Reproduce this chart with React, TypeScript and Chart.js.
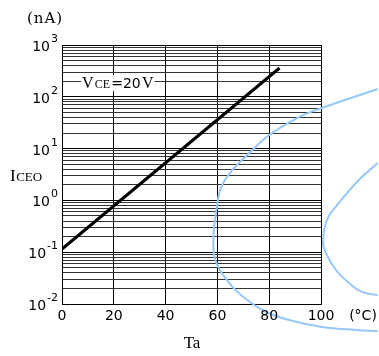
import React, { useEffect, useRef } from 'react';
import { Chart, registerables } from 'chart.js';

Chart.register(...registerables);

// Axis ticks
const xTickValues = [0, 20, 40, 60, 80, 100];
const yDecadeExponents = [-2, -1, 0, 1, 2, 3];
const yMantissas = [1, 2, 3, 4, 5, 6, 7, 8, 9];

// ICEO vs Ta (nA vs °C)
const iceoTa = [0, 84];
const iceoNa = [0.115, 360];

// Light blue arcs seen in the picture (data coordinates)
const outerArcX = [121.9, 99.2, 91.5, 80, 72.3, 65.8, 61.5, 59.6, 58.5, 59.2, 64.6, 71.5, 78.8, 87.7, 100.4, 113.5, 121.9];
const outerArcY = [141.6, 58, 40.7, 18.3, 8.2, 3.87, 1.82, 0.65, 0.196, 0.0706, 0.0254, 0.0119, 0.00701, 0.00491, 0.0036, 0.00315, 0.00301];
const innerArcX = [121.9, 114.6, 106.9, 102.3, 100.8, 101.9, 105.8, 110.8, 115.8, 121.9];
const innerArcY = [5.27, 2.48, 0.891, 0.419, 0.157, 0.0966, 0.0453, 0.0254, 0.0171, 0.0149];

const annotationText = { x: 7.7, y: 200 };

const SANS = '"DejaVu Sans", sans-serif';
const SERIF = '"Liberation Serif", serif';
const DSERIF = '"DejaVu Serif", serif';

function zip(xs: number[], ys: number[]) {
  return xs.map((x, i) => ({ x, y: ys[i] }));
}

export default function App() {
  const ref = useRef<HTMLCanvasElement>(null);

  useEffect(() => {
    const canvas = ref.current;
    if (!canvas) return;

    const yTickValues: number[] = [];
    for (const e of yDecadeExponents) {
      for (const m of yMantissas) {
        const v = m * Math.pow(10, e);
        if (v <= 1000 + 1e-9) yTickValues.push(v);
      }
    }

    const labelPlugin = {
      id: 'customLabels',
      afterDraw(chart: any) {
        const ctx = chart.ctx as CanvasRenderingContext2D;
        const xs = chart.scales.x;
        const ys = chart.scales.y;
        const area = chart.chartArea;
        ctx.save();
        ctx.fillStyle = '#000';

        // Y tick labels 10^n
        for (const e of yDecadeExponents) {
          const py = ys.getPixelForValue(Math.pow(10, e));
          const right = area.left - 4;
          ctx.font = `11px ${SANS}`;
          const sup = String(e);
          const supW = ctx.measureText(sup).width;
          ctx.textAlign = 'right';
          ctx.textBaseline = 'alphabetic';
          ctx.fillText(sup, right, py - 3);
          ctx.font = `14px ${SANS}`;
          ctx.fillText('10', right - supW - 1, py + 6);
        }

        // X tick labels
        ctx.font = `14px ${SANS}`;
        ctx.textAlign = 'center';
        ctx.textBaseline = 'middle';
        for (const v of xTickValues) {
          ctx.fillText(String(v), xs.getPixelForValue(v), area.bottom + 12);
        }
        // unit (°C)
        ctx.fillText('(°C)', area.right + 42, area.bottom + 12);

        // (nA)
        ctx.font = `15px ${DSERIF}`;
        (ctx as any).letterSpacing = '1px';
        ctx.fillText('(nA)', 45, 19);
        (ctx as any).letterSpacing = '0px';

        // Y title ICEO
        ctx.textAlign = 'left';
        ctx.textBaseline = 'alphabetic';
        ctx.font = `17px ${SERIF}`;
        ctx.fillText('I', 10, 181);
        const iw = ctx.measureText('I').width;
        ctx.font = `13px ${SERIF}`;
        ctx.fillText('CEO', 10 + iw + 0.5, 181);

        // X title Ta
        ctx.font = `17px ${SERIF}`;
        ctx.textAlign = 'center';
        ctx.fillText('Ta', 192, 348);

        // Annotation VCE=20V with white background
        const ax = xs.getPixelForValue(annotationText.x);
        const ay = ys.getPixelForValue(annotationText.y);
        const parts = [
          { t: 'V', f: `16px ${SERIF}` },
          { t: 'CE', f: `12px ${SERIF}` },
          { t: '=20', f: `14px ${SANS}` },
          { t: 'V', f: `16px ${SERIF}` },
        ];
        const gap = 1.2;
        let total = 0;
        const widths: number[] = [];
        for (const p of parts) {
          ctx.font = p.f;
          const w = ctx.measureText(p.t).width;
          widths.push(w);
          total += w;
        }
        total += gap * (parts.length - 1);
        ctx.fillStyle = '#fff';
        ctx.fillRect(ax - 1, ay - 6, total + 2, 16);
        ctx.fillStyle = '#000';
        ctx.textAlign = 'left';
        let cx = ax;
        parts.forEach((p, i) => {
          ctx.font = p.f;
          ctx.fillText(p.t, cx, ay + 7);
          cx += widths[i] + gap;
        });

        ctx.restore();
      },
    };

    const chart = new Chart(canvas, {
      type: 'line',
      data: {
        datasets: [
          {
            label: 'ICEO',
            data: zip(iceoTa, iceoNa),
            borderColor: '#000',
            borderWidth: 3,
            pointRadius: 0,
            tension: 0,
          },
          {
            label: 'arc1',
            data: zip(outerArcX, outerArcY),
            borderColor: 'rgb(150,200,250)',
            borderWidth: 2,
            pointRadius: 0,
            tension: 0.4,
            clip: false as any,
          },
          {
            label: 'arc2',
            data: zip(innerArcX, innerArcY),
            borderColor: 'rgb(150,200,250)',
            borderWidth: 2,
            pointRadius: 0,
            tension: 0.4,
            clip: false as any,
          },
        ],
      },
      options: {
        responsive: false,
        animation: false,
        layout: { padding: { left: 62, top: 45, right: 58, bottom: 52 } },
        plugins: { legend: { display: false }, tooltip: { enabled: false } },
        scales: {
          x: {
            type: 'linear',
            min: 0,
            max: 100,
            afterBuildTicks: (scale: any) => {
              scale.ticks = xTickValues.map((v) => ({ value: v }));
            },
            ticks: { display: false },
            grid: { color: '#000', lineWidth: 1, drawTicks: false },
            border: { display: true, color: '#000', width: 1 },
          },
          y: {
            type: 'logarithmic',
            min: 0.01,
            max: 1000,
            afterBuildTicks: (scale: any) => {
              scale.ticks = yTickValues.map((v) => ({ value: v }));
            },
            ticks: { display: false },
            grid: {
              color: (c: any) => {
                const v = c.tick ? c.tick.value : 0;
                const l = Math.log10(v);
                return Math.abs(l - Math.round(l)) < 1e-6 ? '#000' : '#333';
              },
              lineWidth: 1,
              drawTicks: false,
            },
            border: { display: true, color: '#000', width: 1 },
          },
        },
      },
      plugins: [labelPlugin],
    });

    return () => chart.destroy();
  }, []);

  return (
    <div style={{ position: 'absolute', left: 0, top: 0, width: 379, height: 356, background: '#fff' }}>
      <canvas ref={ref} width={379} height={356} style={{ display: 'block' }} />
    </div>
  );
}
